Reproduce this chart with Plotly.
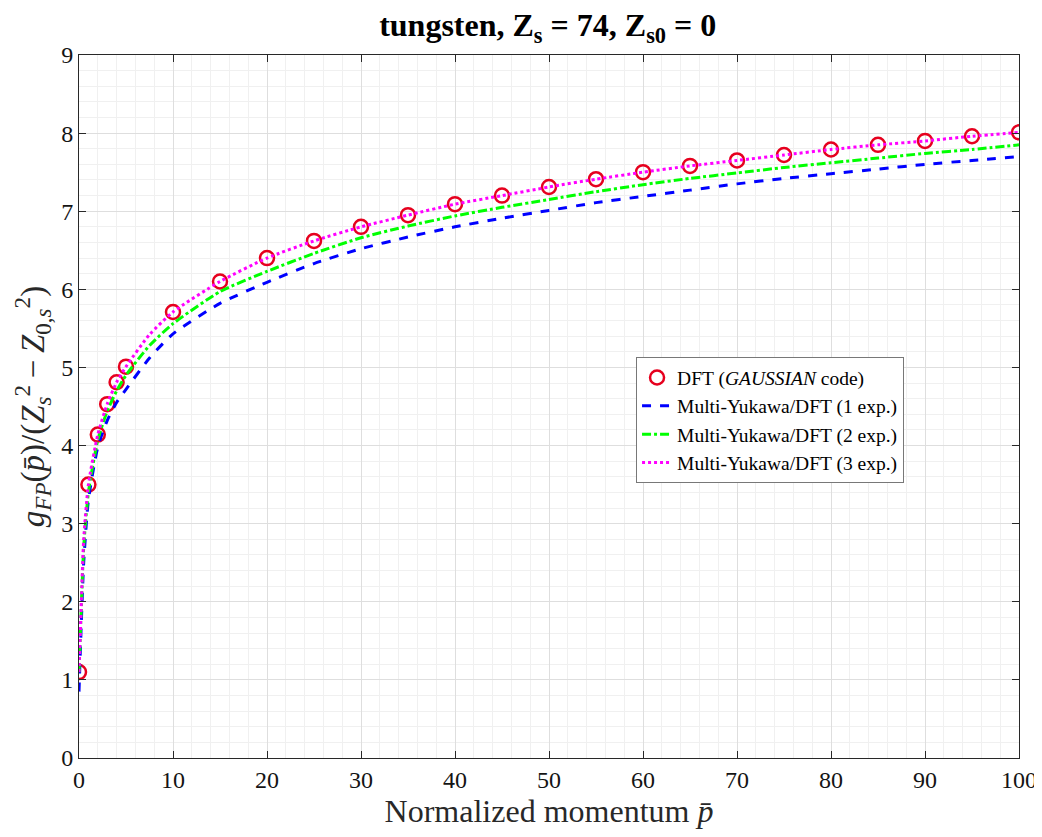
import plotly.graph_objects as go

# DFT (GAUSSIAN code) points
p_dft = [0, 1, 2, 3, 4, 5, 10, 15, 20, 25, 30, 35, 40, 45, 50, 55, 60, 65, 70, 75, 80, 85, 90, 95, 100]
g_dft = [1.10, 3.50, 4.14, 4.53, 4.81, 5.01, 5.71, 6.10, 6.40, 6.62, 6.80, 6.95, 7.09, 7.20, 7.31, 7.41,
         7.50, 7.58, 7.65, 7.72, 7.79, 7.85, 7.90, 7.96, 8.01]

# Multi-Yukawa/DFT fit curves
p_fit = [0, 0.25, 0.5, 1, 2, 3, 4, 5, 7.5, 10, 15, 20, 25, 30, 35, 40, 45, 50, 55, 60, 65, 70, 75, 80, 85, 90, 95, 100]
g_1exp = [0.85, 1.75, 2.50, 3.30, 3.98, 4.32, 4.55, 4.72, 5.12, 5.43, 5.82, 6.09, 6.33, 6.52, 6.67, 6.80, 6.91,
          7.01, 7.11, 7.19, 7.27, 7.35, 7.42, 7.48, 7.54, 7.60, 7.65, 7.70]
g_2exp = [1.10, 1.95, 2.70, 3.40, 4.07, 4.44, 4.70, 4.90, 5.28, 5.56, 5.97, 6.23, 6.46, 6.66, 6.81, 6.94, 7.05,
          7.15, 7.25, 7.34, 7.42, 7.49, 7.56, 7.62, 7.68, 7.74, 7.79, 7.85]
g_3exp = [1.10, 2.00, 2.80, 3.50, 4.14, 4.53, 4.81, 5.01, 5.42, 5.71, 6.10, 6.40, 6.62, 6.80, 6.95, 7.09, 7.20,
          7.31, 7.41, 7.50, 7.58, 7.65, 7.72, 7.79, 7.85, 7.90, 7.96, 8.01]

FONT = "Liberation Serif, Times New Roman, serif"

fig = go.Figure()
fig.add_trace(go.Scatter(
    x=p_dft, y=g_dft, mode="markers", name="DFT (<i>GAUSSIAN</i> code)",
    marker=dict(symbol="circle-open", size=14, color="rgb(230,0,30)", line=dict(width=2.5, color="rgb(230,0,30)")),
))
fig.add_trace(go.Scatter(
    x=p_fit, y=g_1exp, mode="lines", name="Multi-Yukawa/DFT (1 exp.)",
    line=dict(color="rgb(0,0,255)", width=3, dash="dash", shape="spline", smoothing=0.6),
))
fig.add_trace(go.Scatter(
    x=p_fit, y=g_2exp, mode="lines", name="Multi-Yukawa/DFT (2 exp.)",
    line=dict(color="rgb(0,255,0)", width=3, dash="dashdot", shape="spline", smoothing=0.6),
))
fig.add_trace(go.Scatter(
    x=p_fit, y=g_3exp, mode="lines", name="Multi-Yukawa/DFT (3 exp.)",
    line=dict(color="rgb(255,0,255)", width=3, dash="dot", shape="spline", smoothing=0.6),
))

axis_common = dict(
    showline=True, linecolor="rgb(40,40,40)", linewidth=1, mirror="ticks",
    ticks="inside", ticklen=7, tickcolor="rgb(40,40,40)",
    showgrid=True, gridcolor="rgb(222,222,222)", gridwidth=1,
    zeroline=False, automargin=False,
    tickfont=dict(family=FONT, size=24, color="rgb(20,20,20)"),
)

fig.update_xaxes(
    range=[0, 100], tick0=0, dtick=10,
    minor=dict(dtick=2, showgrid=True, gridcolor="rgb(240,240,240)", gridwidth=1, ticks=""),
    title=dict(text="Normalized momentum <i>p̄</i>", font=dict(family=FONT, size=32, color="rgb(40,40,40)"),
               standoff=0),
    **axis_common,
)
fig.update_yaxes(
    range=[0, 9], tick0=0, dtick=1,
    minor=dict(dtick=0.2, showgrid=True, gridcolor="rgb(240,240,240)", gridwidth=1, ticks=""),
    title=dict(text="<i>g</i><sub><i>FP</i></sub>(<i>p̄</i>)/(<i>Z</i><sub><i>s</i></sub><sup>2</sup>&#8201;−&#8201;<i>Z</i><sub>0,<i>s</i></sub><sup>2</sup>)",
               font=dict(family=FONT, size=33, color="rgb(40,40,40)"), standoff=6),
    **axis_common,
)

# page body adds an 8px offset, so the figure is sized to fill the remaining window
fig.update_layout(
    width=1034, height=829,
    margin=dict(l=71, r=23, t=47, b=79, autoexpand=False),
    paper_bgcolor="white", plot_bgcolor="white",
    title=dict(text="<b>tungsten, Z<sub>s</sub> = 74, Z<sub>s0</sub> = 0</b>",
               font=dict(family=FONT, size=32, color="black"),
               x=0.522, xanchor="center", y=0.993, yanchor="top"),
    legend=dict(
        x=0.5926, y=0.570, xanchor="left", yanchor="top",
        bgcolor="white", bordercolor="rgb(120,120,120)", borderwidth=1,
        font=dict(family=FONT, size=19.5, color="black"),
        tracegroupgap=0, itemwidth=30,
    ),
    showlegend=True,
)

fig.write_html("out.html")
